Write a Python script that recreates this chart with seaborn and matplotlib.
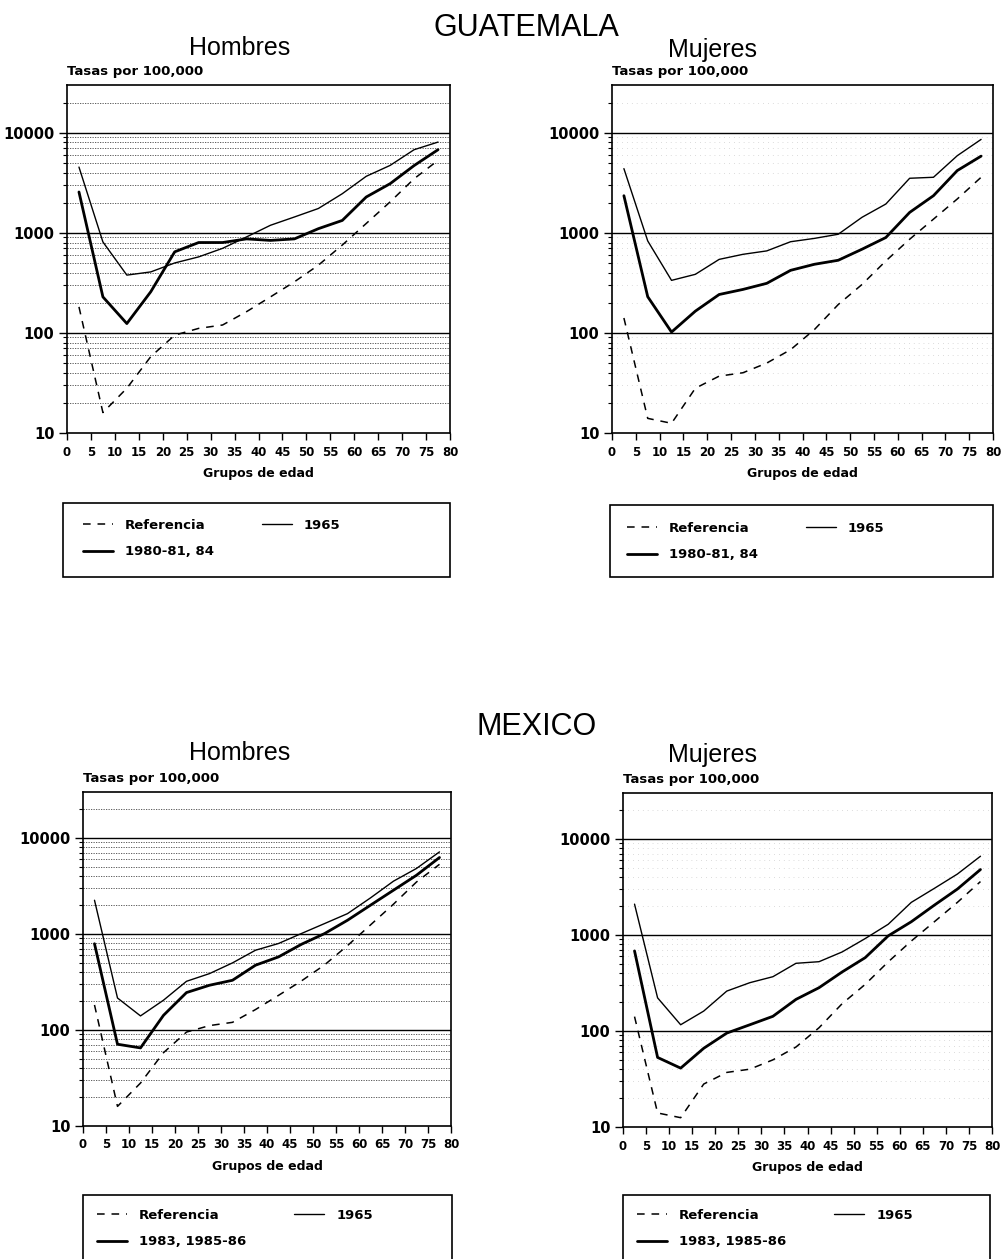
import numpy as np
import pandas as pd
import matplotlib
matplotlib.use("Agg")
import matplotlib.pyplot as plt
import seaborn as sns
from matplotlib.patches import Rectangle
from matplotlib.ticker import FixedLocator, NullFormatter

# ---------------- data ----------------
ages = [2.5, 7.5, 12.5, 17.5, 22.5, 27.5, 32.5, 37.5, 42.5, 47.5, 52.5, 57.5, 62.5, 67.5, 72.5, 77.5]

ref_hombres = [182, 16, 28, 58, 95, 111, 120, 163, 229, 324, 475, 755, 1240, 2040, 3470, 5300]
ref_mujeres = [141, 14, 12.5, 28, 37, 40, 50, 68, 108, 192, 305, 524, 863, 1370, 2180, 3590]

gt_hombres_1965 = [4540, 811, 378, 407, 500, 575, 700, 910, 1190, 1440, 1750, 2460, 3670, 4720, 6770, 8070]
gt_hombres_1980 = [2560, 229, 124, 258, 646, 800, 800, 870, 840, 870, 1100, 1330, 2280, 3100, 4700, 6770]
gt_mujeres_1965 = [4380, 830, 335, 385, 543, 610, 660, 815, 880, 968, 1430, 1940, 3510, 3590, 5900, 8580]
gt_mujeres_1980 = [2350, 230, 102, 165, 242, 272, 313, 422, 485, 532, 686, 898, 1600, 2350, 4190, 5840]

mx_hombres_1965 = [2240, 215, 140, 204, 321, 386, 499, 676, 794, 1010, 1280, 1625, 2370, 3540, 4800, 7140]
mx_hombres_1983 = [790, 71, 65, 142, 245, 292, 329, 472, 576, 780, 1007, 1387, 1990, 2850, 4080, 6240]
mx_mujeres_1965 = [2090, 221, 116, 161, 260, 318, 367, 506, 526, 664, 915, 1290, 2180, 3050, 4300, 6590]
mx_mujeres_1983 = [681, 53, 41, 66, 95, 116, 142, 213, 282, 411, 579, 977, 1370, 2040, 3000, 4790]

x_ticks = [0, 5, 10, 15, 20, 25, 30, 35, 40, 45, 50, 55, 60, 65, 70, 75, 80]
y_ticks = [10, 100, 1000, 10000]
y_tick_labels = ["10", "100", "1000", "10000"]

countries = ["GUATEMALA", "MEXICO"]
sexes = ["Hombres", "Mujeres"]
label_ref = "Referencia"
label_1965 = "1965"
labels_recent = ["1980-81, 84", "1983, 1985-86"]

# ---------------- figure ----------------
sns.set_style("white")
plt.rcParams["font.family"] = ["DejaVu Sans"]
plt.rcParams.update({"text.color": "black", "axes.labelcolor": "black",
                     "xtick.color": "black", "ytick.color": "black"})

W, H = 1005, 1259
fig = plt.figure(figsize=(W / 100, H / 100), dpi=100)


def fig_rect(x0, y0, x1, y1):
    return [x0 / W, 1 - y1 / H, (x1 - x0) / W, (y1 - y0) / H]


narrow = ["Liberation Sans Narrow", "Liberation Sans", "DejaVu Sans"]

panels = [
    dict(box=(67, 85, 450, 433), leg=(63, 503, 450, 577), anchor=(83, 519),
         refv=ref_hombres, v65=gt_hombres_1965, vr=gt_hombres_1980, lab=labels_recent[0], dense=True),
    dict(box=(612, 85, 993, 433), leg=(610, 505, 993, 577), anchor=(627, 522),
         refv=ref_mujeres, v65=gt_mujeres_1965, vr=gt_mujeres_1980, lab=labels_recent[0], dense=False),
    dict(box=(83, 792, 451, 1126), leg=(83, 1195, 452, 1275), anchor=(97, 1209),
         refv=ref_hombres, v65=mx_hombres_1965, vr=mx_hombres_1983, lab=labels_recent[1], dense=True),
    dict(box=(623, 793, 992, 1127), leg=(623, 1195, 990, 1275), anchor=(637, 1209),
         refv=ref_mujeres, v65=mx_mujeres_1965, vr=mx_mujeres_1983, lab=labels_recent[1], dense=False),
]

minor_vals = [m * 10 ** k for k in range(1, 5) for m in range(2, 10)]
minor_vals = [v for v in minor_vals if v < 30000]

for p in panels:
    ax = fig.add_axes(fig_rect(*p["box"]))
    ax.set_yscale("log")
    ax.set_xlim(0, 80)
    ax.set_ylim(10, 30000)

    for v in minor_vals:
        if p["dense"]:
            ax.axhline(v, color="#444444", lw=0.6, ls=(0, (1.5, 1.5)), zorder=1)
        else:
            ax.axhline(v, color="#bbbbbb", lw=0.5, ls=(0, (1, 6)), zorder=1)
    for v in [100, 1000, 10000]:
        ax.axhline(v, color="black", lw=1.0, zorder=2)

    df = pd.DataFrame({"edad": ages, "ref": p["refv"], "y65": p["v65"], "yr": p["vr"]})
    sns.lineplot(data=df, x="edad", y="ref", ax=ax, color="black", lw=1.1,
                 linestyle=(0, (5, 4.5)), label=label_ref, zorder=4, legend=False)
    sns.lineplot(data=df, x="edad", y="yr", ax=ax, color="black", lw=2.0,
                 label=p["lab"], zorder=5, legend=False)
    sns.lineplot(data=df, x="edad", y="y65", ax=ax, color="black", lw=1.0,
                 label=label_1965, zorder=4, legend=False)

    ax.set_xticks(x_ticks)
    ax.set_xticklabels([str(t) for t in x_ticks], fontsize=8.5, fontweight="bold")
    ax.yaxis.set_major_locator(FixedLocator(y_ticks))
    ax.set_yticklabels(y_tick_labels, fontsize=10.5, fontweight="bold")
    ax.yaxis.set_minor_locator(FixedLocator(minor_vals))
    ax.yaxis.set_minor_formatter(NullFormatter())
    ax.tick_params(axis="x", which="major", direction="out", length=5, width=1.0, pad=4, bottom=True)
    ax.tick_params(axis="y", which="major", direction="out", length=6, width=1.0, pad=3, left=True)
    ax.tick_params(axis="y", which="minor", direction="out", length=3, width=0.8, left=True)
    for s in ax.spines.values():
        s.set_color("black")
        s.set_linewidth(1.2)

    ax.set_xlabel("Grupos de edad", fontsize=9, fontweight="bold", labelpad=6)
    ax.set_ylabel("")
    ax.text(0.0, 1.02, "Tasas por 100,000", transform=ax.transAxes, ha="left", va="bottom",
            fontsize=9.5, fontweight="bold")

    lx0, ly0, lx1, ly1 = p["leg"]
    fig.add_artist(Rectangle((lx0 / W, 1 - ly1 / H), (lx1 - lx0) / W, (ly1 - ly0) / H,
                             transform=fig.transFigure, fill=False, lw=1.2, edgecolor="black"))
    h, l = ax.get_legend_handles_labels()
    order = [label_ref, p["lab"], label_1965]
    hd = dict(zip(l, h))
    ax_x, ax_y = p["anchor"]
    fig.legend([hd[k] for k in order], order, loc="upper left",
               bbox_to_anchor=(ax_x / W, 1 - ax_y / H), bbox_transform=fig.transFigure,
               ncol=2, frameon=False, borderpad=0, borderaxespad=0,
               handlelength=2.3, handletextpad=0.9, columnspacing=3.6, labelspacing=1.0,
               prop=dict(size=9.5, weight="bold"))

fig.text(526 / W, 1 - 28 / H, countries[0], ha="center", va="center", fontsize=22, family=narrow)
fig.text(537 / W, 1 - 727 / H, countries[1], ha="center", va="center", fontsize=22, family=narrow)
for yy in (48, 753):
    fig.text(240 / W, 1 - yy / H, sexes[0], ha="center", va="center", fontsize=18, family=narrow)
    fig.text(712 / W, 1 - (yy + 2) / H, sexes[1], ha="center", va="center", fontsize=18, family=narrow)

fig.savefig("out.png", dpi=100)
